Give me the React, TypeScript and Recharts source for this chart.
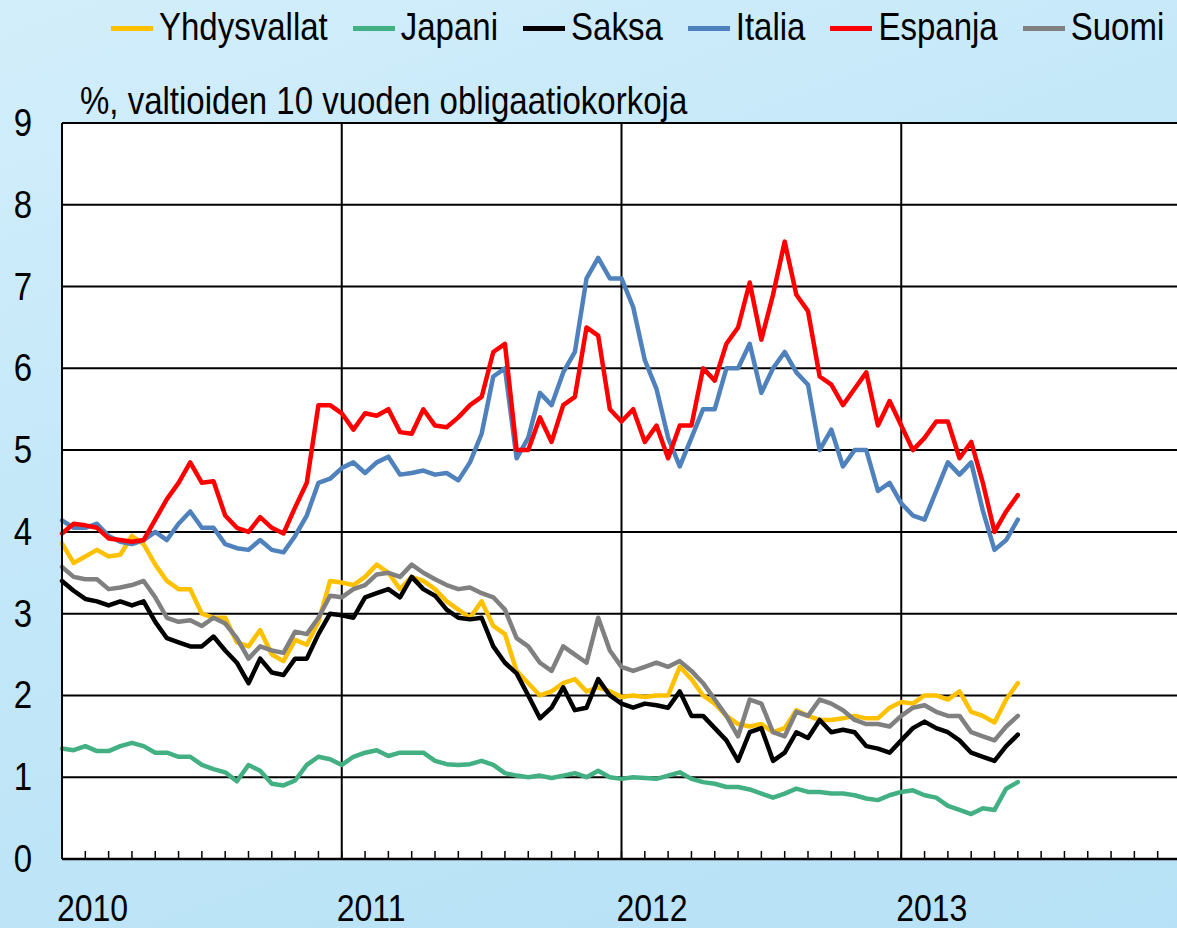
import React from "react";
import { LineChart, Line, XAxis, YAxis, CartesianGrid, ReferenceLine } from "recharts";

// x = months since Jan 2010 (half-month steps)
const months = [
  0, 0.5, 1, 1.5, 2, 2.5, 3, 3.5, 4, 4.5, 5, 5.5, 6, 6.5, 7, 7.5, 8, 8.5, 9, 9.5,
  10, 10.5, 11, 11.5, 12, 12.5, 13, 13.5, 14, 14.5, 15, 15.5, 16, 16.5, 17, 17.5, 18, 18.5, 19, 19.5,
  20, 20.5, 21, 21.5, 22, 22.5, 23, 23.5, 24, 24.5, 25, 25.5, 26, 26.5, 27, 27.5, 28, 28.5, 29, 29.5,
  30, 30.5, 31, 31.5, 32, 32.5, 33, 33.5, 34, 34.5, 35, 35.5, 36, 36.5, 37, 37.5, 38, 38.5, 39, 39.5,
  40, 40.5, 41,
];

const yhdysvallat = [
  3.86, 3.62, 3.7, 3.78, 3.7, 3.72, 3.95, 3.85, 3.6, 3.4,
  3.3, 3.3, 3.0, 2.95, 2.95, 2.65, 2.6, 2.8, 2.5, 2.42,
  2.68, 2.62, 2.9, 3.4, 3.38, 3.35, 3.45, 3.6, 3.5, 3.3,
  3.45, 3.4, 3.3, 3.15, 3.05, 2.95, 3.15, 2.85, 2.75, 2.3,
  2.15, 2.0, 2.05, 2.15, 2.2, 2.05, 2.1, 2.05, 1.98, 2.0,
  1.98, 2.0, 2.0, 2.35, 2.2, 2.0, 1.9, 1.75, 1.65, 1.62,
  1.65, 1.55, 1.6, 1.82, 1.75, 1.7, 1.7, 1.72, 1.75, 1.72,
  1.72, 1.85, 1.92, 1.9, 2.0, 2.0, 1.95, 2.05, 1.8, 1.75,
  1.67, 1.95, 2.15,
];

const japani = [
  1.35, 1.33, 1.38, 1.32, 1.32, 1.38, 1.42, 1.38, 1.3, 1.3,
  1.25, 1.25, 1.15, 1.1, 1.06, 0.95, 1.15, 1.08, 0.92, 0.9,
  0.96, 1.15, 1.25, 1.22, 1.15, 1.25, 1.3, 1.33, 1.26, 1.3,
  1.3, 1.3, 1.2, 1.16, 1.15, 1.16, 1.2, 1.15, 1.05, 1.02,
  1.0, 1.02, 0.99, 1.02, 1.05, 1.0, 1.08, 1.0, 0.98, 1.0,
  0.99, 0.98, 1.02, 1.06, 0.98, 0.94, 0.92, 0.88, 0.88, 0.85,
  0.8, 0.75, 0.8, 0.86, 0.82, 0.82, 0.8, 0.8, 0.78, 0.74,
  0.72, 0.78, 0.82, 0.84, 0.78, 0.75, 0.65, 0.6, 0.55, 0.62,
  0.6, 0.86, 0.94,
];

const saksa = [
  3.4, 3.28, 3.18, 3.15, 3.1, 3.15, 3.1, 3.15, 2.9, 2.7,
  2.65, 2.6, 2.6, 2.72, 2.55, 2.4, 2.15, 2.45, 2.28, 2.25,
  2.45, 2.45, 2.75, 3.0, 2.98, 2.95, 3.2, 3.25, 3.3, 3.2,
  3.45, 3.3, 3.22, 3.05, 2.95, 2.93, 2.95, 2.6, 2.4, 2.27,
  2.0, 1.72, 1.85, 2.1, 1.82, 1.85, 2.2, 2.0, 1.9, 1.85,
  1.9, 1.88, 1.85, 2.05, 1.75, 1.75, 1.6, 1.45, 1.2, 1.55,
  1.6, 1.2, 1.3, 1.55, 1.48, 1.7, 1.55, 1.58, 1.55, 1.38,
  1.35, 1.3, 1.45, 1.6, 1.68, 1.6, 1.55, 1.45, 1.3, 1.25,
  1.2, 1.38, 1.52,
];

const italia = [
  4.14, 4.05, 4.05, 4.1, 3.95, 3.88, 3.85, 3.9, 4.0, 3.9,
  4.1, 4.25, 4.05, 4.05, 3.85, 3.8, 3.78, 3.9, 3.78, 3.75,
  3.95, 4.2, 4.6, 4.65, 4.78, 4.85, 4.72, 4.85, 4.92, 4.7,
  4.72, 4.75, 4.7, 4.72, 4.63, 4.85, 5.2, 5.9, 6.0, 4.9,
  5.15, 5.7, 5.55, 5.95, 6.2, 7.1, 7.35, 7.1, 7.1, 6.75,
  6.1, 5.75, 5.15, 4.8, 5.15, 5.5, 5.5, 6.0, 6.0, 6.3,
  5.7, 6.0, 6.2, 5.95, 5.8, 5.0, 5.25, 4.8, 5.0, 5.0,
  4.5, 4.6, 4.35, 4.2, 4.15, 4.5, 4.85, 4.7, 4.85, 4.26,
  3.78, 3.9, 4.15,
];

const espanja = [
  3.98, 4.1, 4.08, 4.05, 3.92, 3.9, 3.88, 3.9, 4.15, 4.4,
  4.6, 4.85, 4.6, 4.62, 4.2, 4.05, 4.0, 4.18, 4.05, 3.98,
  4.3, 4.6, 5.55, 5.55, 5.45, 5.25, 5.45, 5.42, 5.5, 5.22,
  5.2, 5.5, 5.3, 5.28, 5.4, 5.55, 5.65, 6.2, 6.3, 5.0,
  5.0, 5.4, 5.1, 5.55, 5.65, 6.5, 6.4, 5.5, 5.35, 5.5,
  5.1, 5.3, 4.9, 5.3, 5.3, 6.0, 5.85, 6.3, 6.5, 7.05,
  6.35, 6.9, 7.55, 6.9, 6.7, 5.9, 5.8, 5.55, 5.75, 5.95,
  5.3, 5.6, 5.3, 5.0, 5.15, 5.35, 5.35, 4.9, 5.1, 4.6,
  4.0, 4.25, 4.45,
];

const suomi = [
  3.57, 3.45, 3.42, 3.42, 3.3, 3.32, 3.35, 3.4, 3.2, 2.95,
  2.9, 2.92, 2.85, 2.95, 2.88, 2.7, 2.45, 2.6, 2.55, 2.52,
  2.78, 2.75, 2.95, 3.22, 3.2, 3.3, 3.35, 3.48, 3.5, 3.45,
  3.6, 3.5, 3.42, 3.35, 3.3, 3.32, 3.25, 3.2, 3.05, 2.7,
  2.6, 2.4, 2.3, 2.6, 2.5, 2.4, 2.95, 2.55, 2.35, 2.3,
  2.35, 2.4, 2.35, 2.42, 2.3, 2.15, 1.95, 1.75, 1.5, 1.95,
  1.9, 1.55, 1.5, 1.8, 1.75, 1.95, 1.9, 1.82, 1.7, 1.65,
  1.65, 1.62, 1.75, 1.85, 1.88, 1.8, 1.75, 1.75, 1.55, 1.5,
  1.45, 1.62, 1.75,
];

const yTicks = [0, 1, 2, 3, 4, 5, 6, 7, 8, 9];
const monthTicks = [
  0, 1, 2, 3, 4, 5, 6, 7, 8, 9, 10, 11, 12, 13, 14, 15, 16, 17, 18, 19, 20, 21, 22, 23, 24,
  25, 26, 27, 28, 29, 30, 31, 32, 33, 34, 35, 36, 37, 38, 39, 40, 41, 42, 43, 44, 45, 46, 47, 48,
];
const yearStarts = [0, 12, 24, 36];
const yearNames = ["2010", "2011", "2012", "2013"];
const yearLines = [12, 24, 36];

const series = [
  { key: "yhdysvallat", name: "Yhdysvallat", color: "#FFC000", values: yhdysvallat },
  { key: "japani", name: "Japani", color: "#43B083", values: japani },
  { key: "saksa", name: "Saksa", color: "#000000", values: saksa },
  { key: "italia", name: "Italia", color: "#4F81BD", values: italia },
  { key: "espanja", name: "Espanja", color: "#FF0000", values: espanja },
  { key: "suomi", name: "Suomi", color: "#808080", values: suomi },
];

const data = months.map((m, i) => {
  const row: Record<string, number> = { m };
  series.forEach((s) => (row[s.key] = s.values[i]));
  return row;
});

const FONT = "'Liberation Sans', Arial, sans-serif";
const STRETCH = 1.16;

const MonthTick = (props: any) => {
  const { x, y, payload } = props;
  const idx = yearStarts.indexOf(payload.value);
  return (
    <g>
      {payload.value > 0 && payload.value < 48 && (
        <line x1={x} y1={y} x2={x} y2={y - 8} stroke="#000" strokeWidth={1.5} />
      )}
      {idx >= 0 && (
        <text
          transform={`translate(${x - 5},${y + 62}) scale(1,${STRETCH})`}
          fontSize={32}
          fontFamily={FONT}
          fill="#000"
          textAnchor="start"
        >
          {yearNames[idx]}
        </text>
      )}
    </g>
  );
};

const ValueTick = (props: any) => {
  const { x, y, payload } = props;
  return (
    <text
      transform={`translate(${x - 30},${y + 13}) scale(1,${STRETCH})`}
      fontSize={33}
      fontFamily={FONT}
      fill="#000"
      textAnchor="end"
    >
      {payload.value}
    </text>
  );
};

const textStyle: React.CSSProperties = {
  position: "absolute",
  fontFamily: FONT,
  fontSize: 33,
  lineHeight: "33px",
  color: "#000",
  whiteSpace: "nowrap",
  transform: `scaleY(${STRETCH})`,
  transformOrigin: "0 28px",
};

export default function App() {
  return (
    <div
      style={{
        position: "absolute",
        left: 0,
        top: 0,
        width: 1177,
        height: 928,
        overflow: "hidden",
        background: "linear-gradient(160deg, #d3eefb 0%, #c2e7f8 45%, #b7e1f6 100%)",
      }}
    >
      <div style={{ position: "absolute", left: 111, top: 12, display: "flex", alignItems: "flex-start" }}>
        {series.map((s) => (
          <div key={s.key} style={{ display: "flex", alignItems: "flex-start", marginRight: 25 }}>
            <div style={{ width: 42, height: 5, background: s.color, marginTop: 14, marginRight: 6 }} />
            <div style={{ ...textStyle, position: "relative" }}>{s.name}</div>
          </div>
        ))}
      </div>
      <div style={{ ...textStyle, left: 80, top: 86 }}>%, valtioiden 10 vuoden obligaatiokorkoja</div>

      <div style={{ position: "absolute", left: 0, top: 0 }}>
        <LineChart width={1181} height={928} data={data} margin={{ top: 123, right: 0, bottom: 0, left: 0 }}>
          <CartesianGrid vertical={false} stroke="#000" strokeWidth={2} fill="#ffffff" fillOpacity={1} />
          <XAxis
            dataKey="m"
            type="number"
            domain={[0, 48]}
            ticks={monthTicks}
            interval={0}
            height={69}
            tickSize={0}
            tickMargin={0}
            tickLine={false}
            axisLine={{ stroke: "#000", strokeWidth: 2.5 }}
            tick={<MonthTick />}
          />
          <YAxis
            type="number"
            domain={[0, 9]}
            ticks={yTicks}
            interval={0}
            width={62}
            tickSize={0}
            tickMargin={0}
            tickLine={false}
            axisLine={{ stroke: "#000", strokeWidth: 2 }}
            tick={<ValueTick />}
          />
          {yearLines.map((v) => (
            <ReferenceLine key={v} x={v} stroke="#000" strokeWidth={2} />
          ))}
          {series.map((s) => (
            <Line
              key={s.key}
              type="linear"
              dataKey={s.key}
              name={s.name}
              stroke={s.color}
              strokeWidth={4.5}
              strokeLinejoin="round"
              strokeLinecap="round"
              dot={false}
              activeDot={false}
              isAnimationActive={false}
            />
          ))}
        </LineChart>
      </div>
    </div>
  );
}
